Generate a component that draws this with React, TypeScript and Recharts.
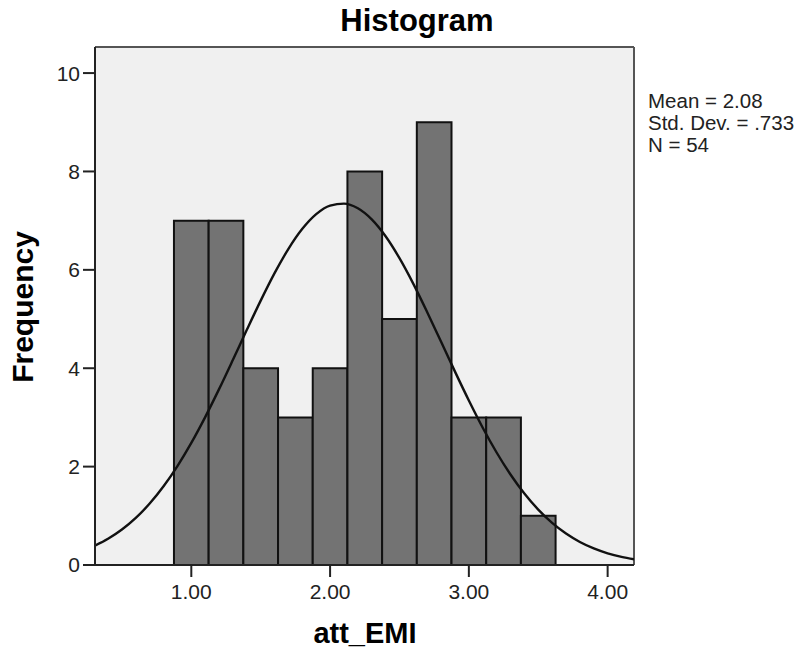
import {
  ComposedChart, Line, XAxis, YAxis, CartesianGrid, ReferenceArea, ReferenceLine,
} from 'recharts'

// bins of att_EMI (width .25)
const binStart = [0.875, 1.125, 1.375, 1.625, 1.875, 2.125, 2.375, 2.625, 2.875, 3.125, 3.375]
const binEnd = [1.125, 1.375, 1.625, 1.875, 2.125, 2.375, 2.625, 2.875, 3.125, 3.375, 3.625]
const counts = [7, 7, 4, 3, 4, 8, 5, 9, 3, 3, 1]

// normal curve
const curveX = [
  0.3, 0.4, 0.5, 0.6, 0.7, 0.8, 0.9, 1.0, 1.1, 1.2, 1.3, 1.4, 1.5, 1.6, 1.7, 1.8, 1.9, 2.0,
  2.1, 2.2, 2.3, 2.4, 2.5, 2.6, 2.7, 2.8, 2.9, 3.0, 3.1, 3.2, 3.3, 3.4, 3.5, 3.6, 3.7, 3.8,
  3.9, 4.0, 4.1, 4.2,
]
const curveY = [
  0.385, 0.532, 0.72, 0.957, 1.249, 1.6, 2.011, 2.482, 3.007, 3.575, 4.172, 4.78, 5.374,
  5.932, 6.426, 6.833, 7.132, 7.306, 7.347, 7.252, 7.026, 6.682, 6.237, 5.715, 5.139, 4.537,
  3.931, 3.344, 2.791, 2.287, 1.84, 1.453, 1.126, 0.856, 0.639, 0.468, 0.337, 0.238, 0.165,
  0.112,
]

const xTicks = [1, 2, 3, 4]
const yTicks = [0, 2, 4, 6, 8, 10]
const statLines = ['Mean = 2.08', 'Std. Dev. = .733', 'N = 54']

const X_MIN = 0.306
const X_MAX = 4.19
const Y_MAX = 10.53

const FONT = '"Liberation Sans", Arial, sans-serif'

const curve = curveX.map((x, i) => ({ x, y: curveY[i] }))

export default function App() {
  return (
    <div style={{ position: 'absolute', left: 0, top: 0, width: 803, height: 650, background: '#fff' }}>
      <ComposedChart
        width={803}
        height={650}
        data={curve}
        margin={{ top: 47, right: 169, bottom: 45, left: 35 }}
      >
        <CartesianGrid fill="#f0f0f0" horizontal={false} vertical={false} />
        <XAxis
          dataKey="x"
          type="number"
          domain={[X_MIN, X_MAX]}
          allowDataOverflow
          ticks={xTicks}
          tickFormatter={(v: number) => v.toFixed(2)}
          height={40}
          tickSize={12}
          tickMargin={7}
          tick={{ fontSize: 21, fill: '#222', fontFamily: FONT }}
          axisLine={{ stroke: '#222', strokeWidth: 2 }}
          tickLine={{ stroke: '#222', strokeWidth: 2 }}
        />
        <YAxis
          type="number"
          domain={[0, Y_MAX]}
          allowDataOverflow
          ticks={yTicks}
          width={60}
          tickSize={12}
          tickMargin={3}
          tick={{ fontSize: 21, fill: '#222', fontFamily: FONT }}
          axisLine={{ stroke: '#222', strokeWidth: 2 }}
          tickLine={{ stroke: '#222', strokeWidth: 2 }}
        />
        {counts.map((c, i) => (
          <ReferenceArea
            key={i}
            x1={binStart[i]}
            x2={binEnd[i]}
            y1={0}
            y2={c}
            fill="#737373"
            fillOpacity={1}
            stroke="#111"
            strokeWidth={2}
          />
        ))}
        <ReferenceLine y={Y_MAX} stroke="#555" strokeWidth={2} />
        <ReferenceLine x={X_MAX} stroke="#555" strokeWidth={2} />
        <Line
          dataKey="y"
          type="monotone"
          stroke="#111"
          strokeWidth={2.4}
          dot={false}
          activeDot={false}
          isAnimationActive={false}
        />
      </ComposedChart>
      <svg
        width={803}
        height={650}
        style={{ position: 'absolute', left: 0, top: 0, pointerEvents: 'none' }}
        fontFamily={FONT}
      >
        <text x={417} y={31} textAnchor="middle" fontSize={31} fontWeight="bold" fill="#000">
          Histogram
        </text>
        <text
          x={33}
          y={307}
          textAnchor="middle"
          fontSize={30}
          fontWeight="bold"
          fill="#000"
          transform="rotate(-90 33 307)"
        >
          Frequency
        </text>
        <text x={365} y={643} textAnchor="middle" fontSize={29} fontWeight="bold" fill="#000">
          att_EMI
        </text>
        {statLines.map((s, i) => (
          <text key={s} x={648} y={108 + i * 22} fontSize={20.5} fill="#222">
            {s}
          </text>
        ))}
      </svg>
    </div>
  )
}
